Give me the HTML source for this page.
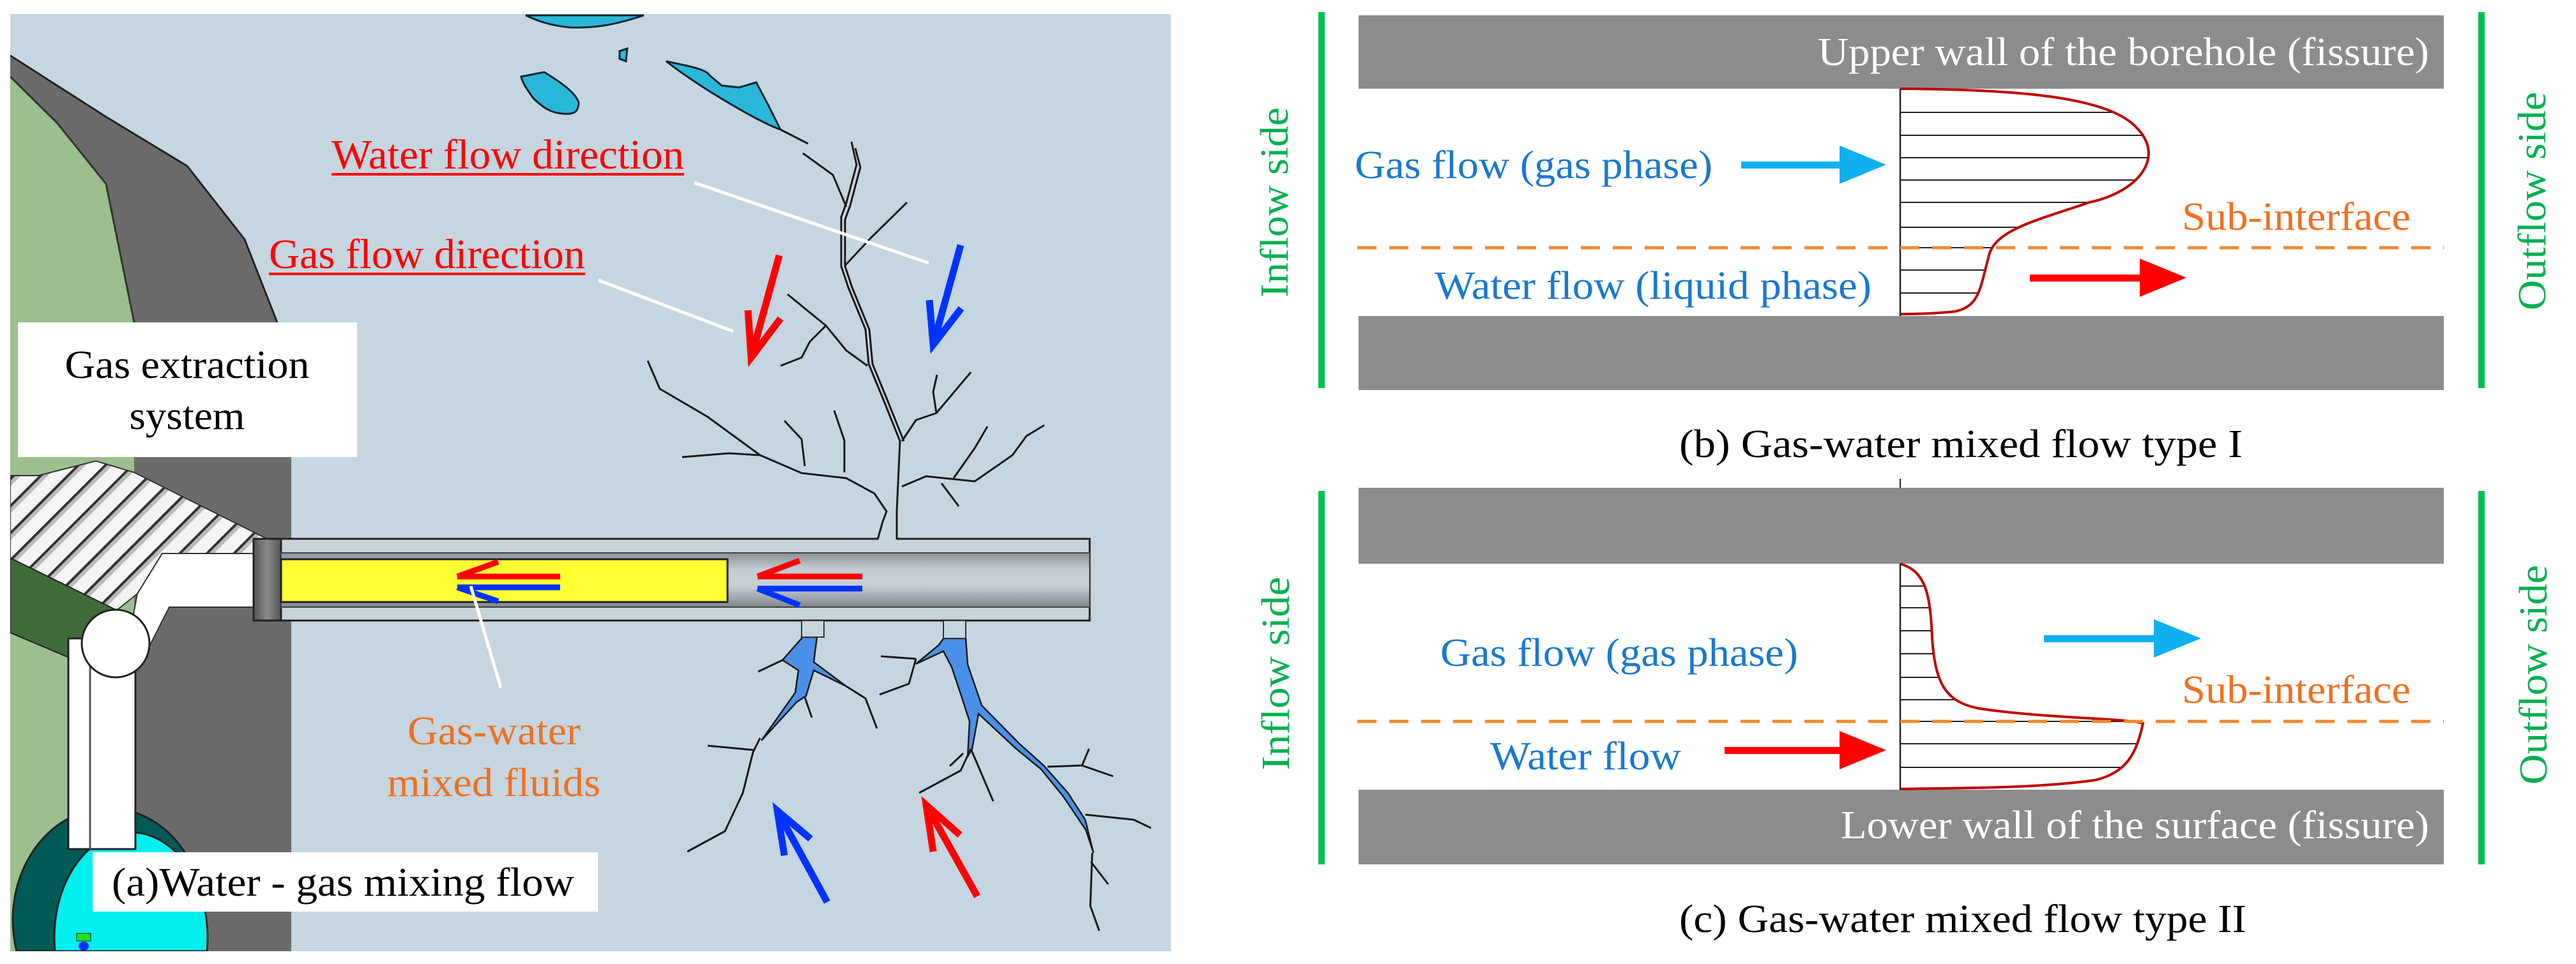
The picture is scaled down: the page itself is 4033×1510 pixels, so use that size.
<!DOCTYPE html>
<html><head><meta charset="utf-8"><style>
html,body{margin:0;padding:0;background:#fff;width:4033px;height:1510px;overflow:hidden}
svg{display:block;position:absolute;left:0;top:0}
text{font-family:"Liberation Serif",serif}
</style></head><body>
<svg width="4033" height="1510" viewBox="0 0 4033 1510" xmlns="http://www.w3.org/2000/svg" font-family="Liberation Serif, serif">
<defs>
<linearGradient id="tube" x1="0" y1="0" x2="0" y2="1">
<stop offset="0" stop-color="#8a9196"/><stop offset="0.3" stop-color="#c4ccd1"/><stop offset="0.6" stop-color="#c9d0d5"/><stop offset="1" stop-color="#7f878c"/>
</linearGradient>
<linearGradient id="flange" x1="0" y1="0" x2="1" y2="0">
<stop offset="0" stop-color="#555"/><stop offset="0.5" stop-color="#8a8a8a"/><stop offset="1" stop-color="#555"/>
</linearGradient>
<pattern id="fins" width="30" height="30" patternUnits="userSpaceOnUse" patternTransform="rotate(-45)">
<rect width="30" height="30" fill="#f4f4f4"/><rect width="30" height="4" fill="#333"/><rect y="4" width="30" height="6" fill="#bbb"/>
</pattern>
<clipPath id="lp"><rect x="16" y="22" width="1817" height="1468"/></clipPath>
<clipPath id="pb"><path d="M2975,139 C3150,140 3300,150 3345,200 C3390,245 3350,300 3271,317 C3190,345 3120,360 3113,404 C3100,450 3100,480 3060,488 C3020,492 2990,492 2975,492 Z"/></clipPath>
<clipPath id="pc"><path d="M2975,883 C3015,895 3022,930 3025,1000 C3030,1070 3045,1100 3100,1110 C3200,1125 3330,1125 3355,1133 C3345,1180 3330,1210 3280,1222 C3180,1236 3050,1234 2975,1236 Z"/></clipPath>
</defs>

<g clip-path="url(#lp)">
<rect x="16" y="22" width="1817" height="1468" fill="#c5d6e0"/>
<polygon points="16,87 166,183 293,260 383,375 434,505 456,720 456,1490 16,1490" fill="#6b6b6b"/>
<polyline points="16,87 166,183 293,260 383,375 434,505" fill="none" stroke="#222" stroke-width="3"/>
<polygon points="16,120 89,192 166,288 210,505 210,1490 16,1490" fill="#9dbf8f"/>
<polyline points="16,120 89,192 166,288 210,505" fill="none" stroke="#333" stroke-width="3"/>
<path d="M26,1490 A150,175 0 1 1 314,1490 Z" fill="#005a55" stroke="#222" stroke-width="3"/>
<path d="M86,1490 A120,165 0 1 1 324,1490 Z" fill="#00f0f0" stroke="#222" stroke-width="3"/>
<rect x="120" y="1462" width="22" height="12" fill="#20e020" stroke="#222"/>
<ellipse cx="131" cy="1482" rx="8" ry="7" fill="#0030ff"/>
<polygon points="16,745 60,745 150,722 210,740 420,845 397,868 254,867 215,930 180,958 16,874" fill="url(#fins)" stroke="#333" stroke-width="2"/>
<polygon points="16,874 181,955 181,1061 16,991" fill="#3f6b3a" stroke="#222" stroke-width="2"/>
<rect x="107" y="1000" width="105" height="330" fill="#fff" stroke="#222" stroke-width="3"/>
<line x1="141" y1="1000" x2="141" y2="1330" stroke="#555" stroke-width="3"/>
<polygon points="254,867 397,867 397,951 265,951 235,1010 200,1010 215,930" fill="#fff" stroke="#333" stroke-width="2"/>
<circle cx="181" cy="1008" r="53" fill="#fff" stroke="#222" stroke-width="3"/>
<rect x="397" y="844" width="43" height="128" fill="url(#flange)" stroke="#222" stroke-width="3"/>
<rect x="440" y="844" width="1266" height="128" fill="#c9d3da" stroke="#222" stroke-width="3"/>
<rect x="440" y="866" width="1266" height="85" fill="url(#tube)" stroke="#444" stroke-width="2"/>
<rect x="1375" y="838" width="29" height="10" fill="#c5d6e0"/>
<rect x="440" y="876" width="699" height="67" fill="#ffff33" stroke="#222" stroke-width="3"/>
<g stroke-width="9" fill="none" stroke-linecap="butt">
<path d="M877,903 H716 M716,903 L780,880" stroke="#ff0000"/>
<path d="M877,920 H716 M716,920 L780,942" stroke="#0033ff"/>
<path d="M1350,903 H1186 M1186,903 L1252,878" stroke="#ff0000"/>
<path d="M1350,922 H1186 M1186,922 L1252,948" stroke="#0033ff"/>
</g>
<g fill="#2ab8d8" stroke="#123" stroke-width="3">
<path d="M823,24 L1008,24 C960,40 930,44 893,43 C860,40 840,32 823,24 Z"/>
<path d="M816,120 L852,113 C880,130 900,145 906,160 C906,175 899,180 880,178 C860,176 850,168 835,154 C825,140 818,130 816,120 Z"/>
<path d="M970,80 L982,76 L980,96 L970,92 Z"/>
<path d="M1043,96 C1080,104 1105,108 1111,118 L1130,134 L1157,137 L1184,129 L1203,165 L1222,203 C1190,192 1100,140 1043,96 Z"/>
</g>
<g fill="none" stroke="#1a1a1a" stroke-width="3" stroke-linejoin="round">
<polyline points="1222,203 1265,225"/>
<polyline points="1333,222 1341,258 1325,318 1317,340 1317,417 1328,450 1355,516 1360,570 1385,631 1409,691 1404,801 1404,845"/>
<polyline points="1339,232 1347,262 1331,322 1323,344 1323,417 1334,450 1361,516 1366,570 1391,631 1415,691"/>
<polyline points="1382,817 1374,845"/>
<polyline points="1014,565 1033,609 1108,653 1190,713 1255,741 1325,749 1369,773 1388,801 1382,817"/>
<polyline points="1068,716 1141,710 1190,713"/>
<polyline points="1228,659 1255,688 1260,730"/>
<polyline points="1306,643 1322,690 1322,740 M1322,690 1341,655"/>
<polyline points="1233,461 1293,510 1325,549 1358,573"/>
<polyline points="1293,510 1268,535 1255,560 1222,573"/>
<polyline points="1322,417 1363,373 1420,317"/>
<polyline points="1257,240 1304,274 1325,324"/>
<polyline points="1412,691 1434,658 1466,647 1520,583"/>
<polyline points="1466,647 1461,614 1467,587"/>
<polyline points="1412,762 1450,746 1526,754 1585,713 1607,683 1635,666"/>
<polyline points="1493,749 1526,702 1546,668"/>
<polyline points="1474,757 1501,793"/>
</g>
<g fill="#4a90e8" stroke="#1a1a1a" stroke-width="2.5">
<path d="M1255,998 L1279,998 L1274,1037 L1325,1075 L1274,1050 L1262,1090 L1247,1100 L1192,1160 L1245,1085 L1250,1050 L1225,1034 L1255,1000 Z"/>
<path d="M1477,1000 L1512,1000 L1515,1041 L1537,1105 L1596,1165 L1634,1199 L1672,1242 L1699,1284 L1712,1336 L1700,1300 L1665,1248 L1630,1205 L1590,1172 L1532,1118 L1522,1173 L1515,1185 L1518,1130 L1505,1090 L1490,1045 L1477,1020 L1434,1040 L1470,1010 Z"/>
</g>
<rect x="1255" y="972" width="35" height="26" fill="#c5d6e0" stroke="#333" stroke-width="2"/>
<rect x="1477" y="972" width="35" height="28" fill="#c5d6e0" stroke="#333" stroke-width="2"/>
<g fill="none" stroke="#1a1a1a" stroke-width="3" stroke-linejoin="round">
<polyline points="1190,1156 1179,1178 1163,1242 1135,1302 1076,1334"/>
<polyline points="1108,1168 1182,1175"/>
<polyline points="1187,1052 1225,1034"/>
<polyline points="1325,1075 1355,1094 1373,1141"/>
<polyline points="1260,1092 1271,1124"/>
<polyline points="1710,1336 1707,1419 1721,1458"/>
<polyline points="1640,1201 1694,1199 1743,1216"/>
<polyline points="1694,1199 1705,1173 M1694,1199 1712,1222 M1730,1212 1760,1177"/>
<polyline points="1699,1276 1775,1284 1802,1297"/>
<polyline points="1708,1350 1735,1385"/>
<polyline points="1434,1032 1379,1028"/>
<polyline points="1434,1032 1423,1071 1377,1088"/>
<polyline points="1520,1173 1504,1207 1439,1242"/>
<polyline points="1520,1173 1555,1255"/>
<polyline points="1508,1180 1487,1200"/>
</g>
<g stroke="#fff" stroke-width="5">
<line x1="1087" y1="286" x2="1454" y2="412"/>
<line x1="937" y1="439" x2="1148" y2="519"/>
<line x1="737" y1="918" x2="784" y2="1077"/>
</g>
<g fill="none" stroke-width="11" stroke-linecap="butt" stroke-linejoin="miter">
<path d="M1220,400 L1176,560 M1171,486 L1176,560 L1222,499" stroke="#ff0000"/>
<path d="M1504,384 L1461,540 M1455,470 L1461,540 L1505,483" stroke="#0033ff"/>
<path d="M1295,1413 L1217,1270 M1228,1340 L1217,1270 L1269,1314" stroke="#0033ff"/>
<path d="M1530,1404 L1450,1261 M1461,1334 L1450,1261 L1503,1308" stroke="#ff0000"/>
</g>
</g>
<rect x="28" y="505" width="531" height="211" fill="#fff"/>
<text x="293" y="592" font-size="62" text-anchor="middle" textLength="383" lengthAdjust="spacingAndGlyphs">Gas extraction</text>
<text x="293" y="672" font-size="62" text-anchor="middle" textLength="181" lengthAdjust="spacingAndGlyphs">system</text>
<text x="519" y="264" font-size="66" fill="#ff0000" textLength="552" lengthAdjust="spacingAndGlyphs">Water flow direction</text>
<rect x="519" y="271" width="552" height="4" fill="#ff0000"/>
<text x="421" y="420" font-size="66" fill="#ff0000" textLength="495" lengthAdjust="spacingAndGlyphs">Gas flow direction</text>
<rect x="421" y="427" width="495" height="4" fill="#ff0000"/>
<text x="638" y="1166" font-size="64" fill="#f07020" textLength="271" lengthAdjust="spacingAndGlyphs">Gas-water</text>
<text x="606" y="1247" font-size="64" fill="#f07020" textLength="334" lengthAdjust="spacingAndGlyphs">mixed fluids</text>
<rect x="145" y="1335" width="791" height="93" fill="#fff"/>
<text x="175" y="1403" font-size="64" textLength="724" lengthAdjust="spacingAndGlyphs">(a)Water - gas mixing flow</text>

<g fill="#00c050">
<rect x="2064" y="19" width="10" height="589"/>
<rect x="3880" y="19" width="10" height="589"/>
<rect x="2064" y="769" width="10" height="585"/>
<rect x="3880" y="769" width="10" height="585"/>
</g>
<text transform="translate(2016,317) rotate(-90)" font-size="62" fill="#00b050" text-anchor="middle" textLength="298" lengthAdjust="spacingAndGlyphs">Inflow side</text>
<text transform="translate(2018,1055) rotate(-90)" font-size="62" fill="#00b050" text-anchor="middle" textLength="303" lengthAdjust="spacingAndGlyphs">Inflow side</text>
<text transform="translate(3985,315) rotate(-90)" font-size="62" fill="#00b050" text-anchor="middle" textLength="342" lengthAdjust="spacingAndGlyphs">Outflow side</text>
<text transform="translate(3987,1057) rotate(-90)" font-size="62" fill="#00b050" text-anchor="middle" textLength="344" lengthAdjust="spacingAndGlyphs">Outflow side</text>

<g fill="#8c8c8c">
<rect x="2127" y="24" width="1699" height="115"/>
<rect x="2127" y="495" width="1699" height="116"/>
<rect x="2127" y="764" width="1699" height="119"/>
<rect x="2127" y="1237" width="1699" height="117"/>
</g>
<text x="3803" y="102" font-size="62" fill="#fff" text-anchor="end" textLength="957" lengthAdjust="spacingAndGlyphs">Upper wall of the borehole (fissure)</text>
<text x="3803" y="1313" font-size="62" fill="#fff" text-anchor="end" textLength="921" lengthAdjust="spacingAndGlyphs">Lower wall of the surface (fissure)</text>

<g clip-path="url(#pb)" stroke="#222" stroke-width="2">
<line x1="2975" y1="176" x2="3400" y2="176"/><line x1="2975" y1="212" x2="3400" y2="212"/>
<line x1="2975" y1="247" x2="3400" y2="247"/><line x1="2975" y1="282" x2="3400" y2="282"/>
<line x1="2975" y1="317" x2="3400" y2="317"/><line x1="2975" y1="356" x2="3400" y2="356"/>
<line x1="2975" y1="388" x2="3400" y2="388"/><line x1="2975" y1="423" x2="3400" y2="423"/>
<line x1="2975" y1="459" x2="3400" y2="459"/>
</g>
<path d="M2975,139 C3150,140 3300,150 3345,200 C3390,245 3350,300 3271,317 C3190,345 3120,360 3113,404 C3100,450 3100,480 3060,488 C3020,492 2990,492 2975,492" fill="none" stroke="#c00000" stroke-width="4"/>
<line x1="2975" y1="139" x2="2975" y2="495" stroke="#222" stroke-width="2.5"/>
<line x1="2125" y1="388" x2="3826" y2="388" stroke="#f08830" stroke-width="5" stroke-dasharray="30,20"/>

<g clip-path="url(#pc)" stroke="#222" stroke-width="2">
<line x1="2975" y1="918" x2="3400" y2="918"/><line x1="2975" y1="952" x2="3400" y2="952"/>
<line x1="2975" y1="988" x2="3400" y2="988"/><line x1="2975" y1="1024" x2="3400" y2="1024"/>
<line x1="2975" y1="1061" x2="3400" y2="1061"/><line x1="2975" y1="1096" x2="3400" y2="1096"/>
<line x1="2975" y1="1130" x2="3400" y2="1130"/><line x1="2975" y1="1165" x2="3400" y2="1165"/>
<line x1="2975" y1="1202" x2="3400" y2="1202"/>
</g>
<path d="M2975,883 C3015,895 3022,930 3025,1000 C3030,1070 3045,1100 3100,1110 C3200,1125 3330,1125 3355,1133 C3345,1180 3330,1210 3280,1222 C3180,1236 3050,1234 2975,1236" fill="none" stroke="#c00000" stroke-width="4"/>
<line x1="2975" y1="883" x2="2975" y2="1237" stroke="#222" stroke-width="2.5"/>
<line x1="2975" y1="750" x2="2975" y2="764" stroke="#222" stroke-width="2"/>
<line x1="2125" y1="1130" x2="3826" y2="1130" stroke="#f08830" stroke-width="5" stroke-dasharray="30,20"/>

<g>
<rect x="2726" y="253" width="160" height="11" fill="#10b0f0"/><polygon points="2880,228 2953,258 2880,288" fill="#10b0f0"/>
<rect x="3178" y="430" width="180" height="11" fill="#ff0000"/><polygon points="3350,405 3423,435 3350,465" fill="#ff0000"/>
<rect x="3200" y="995" width="180" height="11" fill="#10b0f0"/><polygon points="3372,970 3446,1000 3372,1030" fill="#10b0f0"/>
<rect x="2700" y="1170" width="185" height="11" fill="#ff0000"/><polygon points="2880,1145 2953,1175 2880,1205" fill="#ff0000"/>
</g>

<text x="2121" y="279" font-size="62" fill="#1a78d0" textLength="560" lengthAdjust="spacingAndGlyphs">Gas flow (gas phase)</text>
<text x="2246" y="468" font-size="62" fill="#1a78d0" textLength="684" lengthAdjust="spacingAndGlyphs">Water flow (liquid phase)</text>
<text x="3416" y="360" font-size="62" fill="#f07020" textLength="358" lengthAdjust="spacingAndGlyphs">Sub-interface</text>
<text x="2629" y="716" font-size="62" textLength="882" lengthAdjust="spacingAndGlyphs">(b) Gas-water mixed flow type  I</text>
<text x="2255" y="1043" font-size="62" fill="#1a78d0" textLength="560" lengthAdjust="spacingAndGlyphs">Gas flow (gas phase)</text>
<text x="3416" y="1101" font-size="62" fill="#f07020" textLength="358" lengthAdjust="spacingAndGlyphs">Sub-interface</text>
<text x="2333" y="1205" font-size="62" fill="#1a78d0" textLength="299" lengthAdjust="spacingAndGlyphs">Water flow</text>
<text x="2629" y="1460" font-size="62" textLength="888" lengthAdjust="spacingAndGlyphs">(c) Gas-water mixed flow type  II</text>
</svg>
</body></html>
